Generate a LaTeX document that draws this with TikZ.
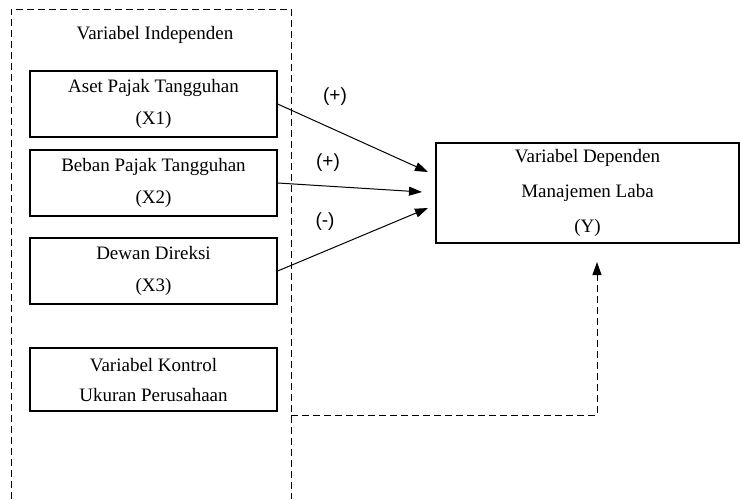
\documentclass[tikz,border=0pt]{standalone}
\usepackage{fontspec}
\setmainfont{Liberation Serif}
\newfontfamily\signfont{Liberation Sans}
\usetikzlibrary{arrows.meta}
\tikzset{
  varbox/.style={draw,line width=1.3pt,minimum width=247pt,align=center,
    font=\fontsize{19}{32}\selectfont,inner sep=0pt},
  signlbl/.style={font=\signfont\fontsize{19}{21}\selectfont},
  arr/.style={line width=1pt,-{Triangle[length=13pt,width=9pt]}}
}
\begin{document}
\begin{tikzpicture}[x=1pt,y=-1pt]
    \useasboundingbox (0,0) rectangle (740,499);
    % dashed frame around the independent variables
    \draw[line width=1pt,dash pattern=on 7pt off 4pt] (11,499)--(11,9)--(291,9)--(291,499);
    \node[font=\fontsize{19}{22}\selectfont] (indep) at (155,35) {Variabel Independen};
    \node[varbox,minimum height=66pt] (x1) at (153.5,104) {Aset Pajak Tangguhan\\(X1)};
    \node[varbox,minimum height=66pt] (x2) at (153.5,183) {Beban Pajak Tangguhan\\(X2)};
    \node[varbox,minimum height=66pt] (x3) at (153.5,271) {Dewan Direksi\\(X3)};
    \node[varbox,minimum height=63pt,font=\fontsize{19}{30}\selectfont] (ctrl) at (153.5,379.5) {Variabel Kontrol\\Ukuran Perusahaan};
    \node[varbox,minimum width=303pt,minimum height=100pt,font=\fontsize{19}{35}\selectfont] (dep) at (587.5,193) {Variabel Dependen\\Manajemen Laba\\(Y)};
    % arrow ends
    \coordinate (t1) at (428,172);
    \coordinate (t2) at (422,192);
    \coordinate (t3) at (428,208);
    \coordinate (ctl) at (291,415);
    \coordinate (yin) at (597,262);
    \draw[arr] (x1.east)--(t1);
    \draw[arr] (x2.east)--(t2);
    \draw[arr] (x3.east)--(t3);
    \draw[arr,dash pattern=on 7pt off 4pt] (ctl) -| (yin);
    \node[signlbl] (s1) at (335,97) {(+)};
    \node[signlbl] (s2) at (328,163) {(+)};
    \node[signlbl] (s3) at (325,222) {(-)};
\end{tikzpicture}
\end{document}
